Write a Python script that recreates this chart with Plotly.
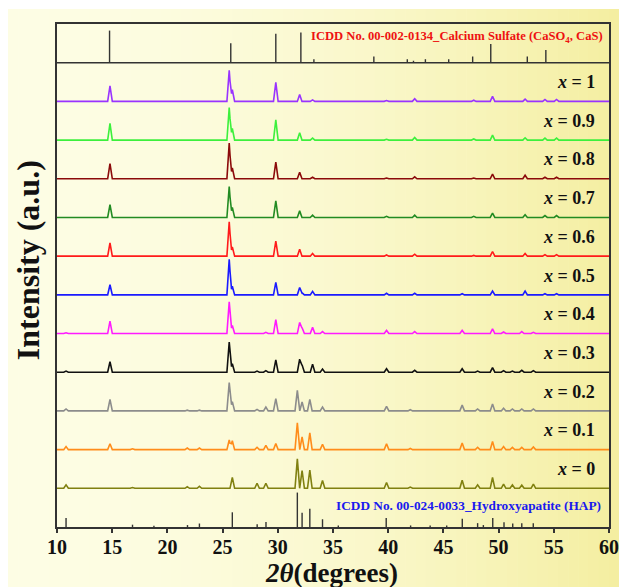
import plotly.graph_objects as go

# ---------------- data ----------------
samples = ["1", "0.9", "0.8", "0.7", "0.6", "0.5", "0.4", "0.3", "0.2", "0.1", "0"]
colors = ["#9933FF", "#3CF03C", "#8B0A0A", "#228B22", "#FF1A1A", "#1A1AFF",
          "#FF1AFF", "#111111", "#8C8C8C", "#FF8C1A", "#808010"]

peak_pos = [10.82, 14.8, 16.84, 21.8, 22.9, 25.6, 25.88, 28.12, 28.92, 29.82,
            31.77, 31.98, 32.2, 32.9, 33.15, 34.05, 39.85, 42.0, 42.4, 46.7,
            47.75, 48.1, 49.45, 50.45, 51.25, 52.1, 52.4, 53.15, 54.2, 55.25]

h_x10 = [0, .40, 0, 0, 0, .80, .30, 0, 0, .49, 0, .18, 0, 0, .04, 0, .02, 0, .07, 0,
         .03, 0, .13, 0, 0, 0, .06, 0, .05, .05]
h_x09 = [0, .43, 0, 0, 0, .84, .30, 0, 0, .52, 0, .19, 0, 0, .05, 0, .02, 0, .07, 0,
         .03, 0, .13, 0, 0, 0, .06, 0, .05, .05]
h_x08 = [0, .39, 0, 0, 0, .92, .28, 0, 0, .43, 0, .17, 0, 0, .04, 0, .02, 0, .05, 0,
         .02, 0, .12, 0, 0, 0, .09, 0, .04, .04]
h_x07 = [0, .33, 0, 0, 0, .80, .26, 0, 0, .43, 0, .17, 0, 0, .06, 0, .03, 0, .06, 0,
         .03, 0, .11, 0, 0, 0, .07, 0, .05, .05]
h_x06 = [0, .34, 0, 0, 0, .89, .24, 0, 0, .39, 0, .18, 0, 0, .07, 0, .03, 0, .05, 0,
         .02, 0, .12, 0, 0, 0, .07, 0, .04, .04]
h_x05 = [0, .26, 0, 0, 0, .92, .22, 0, 0, .32, 0, .19, .05, 0, .09, 0, .04, 0, .04, .03,
         0, 0, .10, 0, 0, 0, .10, 0, .03, .03]
h_x04 = [.02, .32, 0, 0, 0, .82, .21, 0, .03, .36, 0, .29, .15, 0, .16, .05, .08, 0, .05, .08,
         0, 0, .12, .04, 0, .05, 0, .03, 0, 0]
h_x03 = [.03, .27, 0, 0, 0, .78, .22, .03, .04, .32, 0, .34, .19, 0, .21, .08, .09, 0, .05, .09,
         0, .03, .12, .04, .03, .05, 0, .04, 0, 0]
h_x02 = [.05, .30, 0, .02, .02, .73, .24, .04, .10, .32, .53, 0, .23, .30, 0, .10, .12, .03, 0, .15,
         0, .05, .18, .07, .05, .05, 0, .05, 0, 0]
h_x01 = [.08, .15, .02, .04, .04, .25, .23, .06, .11, .16, .69, 0, .33, .43, 0, .14, .15, .03, 0, .17,
         0, .06, .21, .08, .06, .06, 0, .07, 0, 0]
h_x00 = [.09, 0, .02, .04, .05, 0, .28, .13, .13, 0, .76, 0, .46, .47, 0, .20, .15, .03, 0, .21,
         0, .09, .28, .11, .09, .08, 0, .11, 0, 0]
heights = [h_x10, h_x09, h_x08, h_x07, h_x06, h_x05, h_x04, h_x03, h_x02, h_x01, h_x00]

caso4_pos = [14.76, 25.74, 29.82, 32.09, 33.27, 38.70, 41.73, 42.29, 43.37, 45.48,
             47.65, 49.29, 52.60, 54.28]
caso4_int = [0.83, 0.50, 0.75, 0.78, 0.09, 0.16, 0.09, 0.05, 0.09, 0.09,
             0.16, 0.48, 0.16, 0.33]

hap_pos = [10.82, 16.84, 18.78, 21.82, 22.9, 25.88, 28.13, 28.93, 31.77, 32.2,
           32.9, 34.05, 35.48, 39.82, 42.03, 43.8, 45.3, 46.71, 48.1, 48.62,
           49.47, 50.49, 51.28, 52.1, 53.14]
hap_int = [0.23, 0.06, 0.03, 0.05, 0.09, 0.38, 0.07, 0.13, 0.89, 0.37,
           0.47, 0.20, 0.04, 0.23, 0.04, 0.04, 0.04, 0.21, 0.10, 0.05,
           0.23, 0.12, 0.09, 0.10, 0.10]

x_ticks = [10, 15, 20, 25, 30, 35, 40, 45, 50, 55, 60]

caso4_label = "ICDD No. 00-002-0134_Calcium Sulfate (CaSO<sub>4</sub>, CaS)"
hap_label = "ICDD No. 00-024-0033_Hydroxyapatite (HAP)"

# ---------------- style ----------------
FONT = "Liberation Serif, Times New Roman, serif"
HALF_W = 0.21         # half base width of drawn peaks (deg)
N = len(samples)
TOP_BASE = N + 1      # baseline of reference panel


def pattern(base, pos, hts):
    xs = {10.0, 60.0}
    for p, h in zip(pos, hts):
        if h > 0:
            xs.update([p - HALF_W, p, p + HALF_W])
    xs = sorted(x for x in xs if 10 <= x <= 60)
    ys = []
    for x in xs:
        v = 0.0
        for p, h in zip(pos, hts):
            if h > 0:
                v = max(v, h * max(0.0, 1 - abs(x - p) / HALF_W))
        ys.append(base + v)
    return xs, ys


def sticks(base, pos, hts):
    xs, ys = [], []
    for p, h in zip(pos, hts):
        xs += [p, p, None]
        ys += [base, base + h, None]
    return xs, ys


fig = go.Figure()

for i, (s, c, h) in enumerate(zip(samples, colors, heights)):
    base = N - i
    xs, ys = pattern(base, peak_pos, h)
    fig.add_trace(go.Scatter(x=xs, y=ys, mode="lines", line=dict(color=c, width=1.6),
                             hoverinfo="skip", showlegend=False))
    fig.add_annotation(x=58.9, y=base + 0.5, xref="x", yref="y", text=f"<b><i>x</i> = {s}</b>",
                       showarrow=False, xanchor="right", yanchor="middle",
                       font=dict(family=FONT, size=18, color="#111111"))

sx, sy = sticks(TOP_BASE, caso4_pos, caso4_int)
fig.add_trace(go.Scatter(x=sx, y=sy, mode="lines", line=dict(color="#333333", width=1.4),
                         hoverinfo="skip", showlegend=False))
hx, hy = sticks(0, hap_pos, hap_int)
fig.add_trace(go.Scatter(x=hx, y=hy, mode="lines", line=dict(color="#333333", width=1.4),
                         hoverinfo="skip", showlegend=False))

fig.add_annotation(x=59.6, y=TOP_BASE + 0.66, xref="x", yref="y", text=f"<b>{caso4_label}</b>",
                   showarrow=False, xanchor="right", yanchor="middle",
                   font=dict(family=FONT, size=12.6, color="#EE1111"))
fig.add_annotation(x=59.45, y=0.55, xref="x", yref="y", text=f"<b>{hap_label}</b>",
                   showarrow=False, xanchor="right", yanchor="middle",
                   font=dict(family=FONT, size=13.3, color="#1A1AEE"))

# axis titles
fig.add_annotation(x=-0.052, y=0.531, xref="paper", yref="paper", text="<b>Intensity (a.u.)</b>",
                   textangle=-90, showarrow=False, xanchor="center", yanchor="middle",
                   font=dict(family=FONT, size=32, color="#111111"))
fig.add_annotation(x=0.497, y=-0.091, xref="paper", yref="paper",
                   text="<b><i>2θ</i>(degrees)</b>",
                   showarrow=False, xanchor="center", yanchor="middle",
                   font=dict(family=FONT, size=27, color="#111111"))

# separator line under reference panel
fig.add_shape(type="line", xref="paper", yref="y", x0=0, x1=1, y0=TOP_BASE, y1=TOP_BASE,
              line=dict(color="#333333", width=1.5))

# background gradient strips (paper coordinates), leaving a thin white frame top/left
W, H = 619, 587
L, R, T, B = 57, 10, 24, 60
pw, ph = W - L - R, H - T - B
px0, px1, py0, py1 = 8, 619, 9, 587
c0 = (253, 253, 228)
c1 = (244, 238, 160)
nstrip = 60
for k in range(nstrip):
    a = px0 + (px1 - px0) * k / nstrip
    b = px0 + (px1 - px0) * (k + 1) / nstrip + 0.6
    t = ((k + 0.5) / nstrip) ** 1.8
    col = "rgb(%d,%d,%d)" % tuple(round(c0[j] + (c1[j] - c0[j]) * t) for j in range(3))
    fig.add_shape(type="rect", xref="paper", yref="paper", layer="below",
                  x0=(a - L) / pw, x1=(b - L) / pw,
                  y0=(H - B - py1) / ph, y1=(H - B - py0) / ph,
                  line=dict(width=0), fillcolor=col)

fig.update_layout(
    width=W, height=H,
    margin=dict(l=L, r=R, t=T, b=B),
    paper_bgcolor="white", plot_bgcolor="rgba(0,0,0,0)",
    showlegend=False,
    xaxis=dict(range=[10, 60], tickvals=x_ticks, ticks="outside", ticklen=4, tickwidth=1.5,
               tickcolor="#333333", showline=True, linecolor="#333333", linewidth=1.5,
               mirror=True, showgrid=False, zeroline=False, automargin=False,
               ticklabeloverflow="allow", ticklabelstandoff=-3,
               tickfont=dict(family=FONT, size=20, color="#111111", weight="bold")),
    yaxis=dict(range=[0, N + 2], showticklabels=False, ticks="", showline=True,
               linecolor="#333333", linewidth=1.5, mirror=True, showgrid=False,
               zeroline=False, automargin=False),
)

fig.write_html("out.html",
               config={"displayModeBar": False},
               post_script="document.body.style.margin='0px';"
                           "document.body.style.overflow='hidden';")
